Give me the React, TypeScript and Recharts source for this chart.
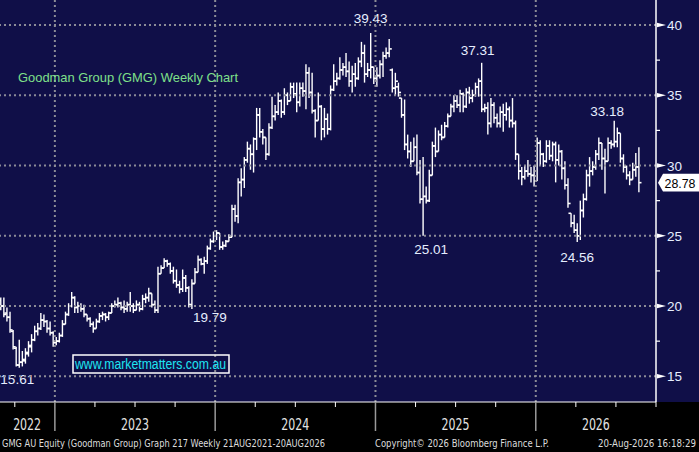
import React from 'react';
import { ComposedChart, Bar, XAxis, YAxis, ReferenceLine } from 'recharts';

const W = 699;
const H = 452;
const NAVY = '#100f48';
const GRID = '#8c8c96';
const SANS = '"Liberation Sans", Arial, sans-serif';
const NARROW = '"Liberation Sans Narrow", "DejaVu Sans Condensed", "Liberation Sans", sans-serif';

// ---- data (weekly OHLC) ----
const weeks = Array.from({ length: 208 }, (_, i) => i);

const opens = [
  20.4, 20.0, 19.5, 19.2, 18.2, 17.0, 15.8, 16.0, 16.1, 16.6,
  17.1, 17.6, 18.2, 18.4, 19.0, 18.9, 18.4, 18.1, 17.4, 17.5,
  17.9, 18.7, 19.4, 20.0, 20.6, 19.9, 20.0, 19.8, 19.4, 19.1,
  18.7, 18.4, 18.9, 19.3, 19.4, 19.2, 19.5, 20.0, 20.1, 20.2,
  19.9, 19.8, 20.1, 20.0, 19.7, 20.1, 19.8, 20.5, 20.6, 20.9,
  20.1, 19.7, 22.3, 22.7, 23.2, 23.0, 22.5, 21.8, 21.5, 21.2,
  22.0, 21.3, 20.1, 21.6, 22.4, 23.3, 23.0, 23.2, 24.1, 24.6,
  25.0, 25.2, 24.2, 24.3, 24.6, 24.9, 26.9, 26.4, 28.8, 29.0,
  30.4, 31.2, 30.8, 31.9, 33.6, 32.4, 32.0, 30.8, 32.7, 33.5,
  33.8, 34.6, 33.8, 35.0, 34.6, 35.6, 35.1, 34.5, 35.5, 35.3,
  36.6, 35.2, 33.9, 33.2, 34.2, 32.6, 33.3, 32.6, 35.4, 36.0,
  36.2, 36.8, 37.0, 36.7, 36.0, 36.5, 36.2, 37.4, 38.0, 36.5,
  36.8, 37.0, 36.2, 36.4, 37.2, 37.8, 38.0, 36.8, 35.5, 35.6,
  34.8, 33.6, 31.5, 31.0, 30.3, 31.3, 29.5, 27.6, 27.8, 27.5,
  29.3, 31.4, 31.0, 32.2, 32.0, 32.8, 33.5, 34.2, 34.6, 34.3,
  35.1, 34.2, 35.2, 34.8, 35.0, 35.6, 36.0, 34.0, 34.1, 33.0,
  34.3, 33.4, 33.0, 33.8, 33.6, 34.0, 33.2, 33.0, 30.8, 29.6,
  29.2, 29.6, 29.4, 29.3, 28.9, 31.6, 30.8, 30.3, 31.4, 30.7,
  31.5, 30.4, 31.0, 29.8, 28.6, 26.6, 25.9, 25.4, 25.0, 26.8,
  27.6, 29.3, 29.6, 29.9, 30.8, 31.6, 30.5, 30.3, 31.6, 31.5,
  31.7, 32.3, 30.5, 29.9, 29.3, 29.0, 29.7, 29.9,
];

const highs = [
  20.6, 20.6, 19.9, 19.6, 18.3, 17.1, 17.6, 16.8, 17.0, 17.5,
  18.0, 18.6, 18.8, 19.5, 19.4, 19.0, 18.9, 18.2, 17.8, 18.1,
  19.0, 19.6, 20.2, 21.0, 20.7, 20.3, 20.2, 20.1, 19.4, 19.2,
  18.9, 19.1, 19.5, 19.6, 19.5, 19.6, 20.2, 20.4, 20.6, 20.3,
  20.4, 20.3, 21.0, 20.2, 20.4, 20.3, 20.8, 20.9, 21.3, 20.9,
  20.4, 22.8, 22.9, 23.4, 23.3, 23.1, 22.8, 22.6, 21.8, 22.6,
  22.2, 21.4, 21.9, 22.7, 23.6, 23.4, 23.5, 24.3, 24.8, 25.3,
  25.4, 25.2, 24.6, 24.7, 25.1, 27.2, 27.2, 29.1, 29.8, 30.6,
  31.7, 31.5, 32.0, 34.1, 34.1, 32.6, 32.0, 33.0, 34.9, 34.3,
  35.2, 34.7, 35.5, 35.2, 35.9, 35.9, 35.9, 35.9, 35.9, 37.2,
  37.0, 36.6, 34.0, 35.2, 34.3, 34.1, 33.7, 35.7, 37.2, 36.6,
  37.7, 37.3, 38.0, 37.4, 37.1, 37.3, 37.7, 38.8, 38.6, 37.3,
  39.43, 37.0, 37.0, 37.5, 38.1, 38.4, 39.0, 36.9, 36.6, 35.9,
  34.8, 34.7, 32.2, 31.7, 32.0, 32.2, 30.4, 30.6, 28.5, 29.7,
  31.7, 32.7, 32.5, 32.9, 33.1, 33.7, 34.4, 35.0, 35.0, 35.4,
  35.2, 35.5, 35.6, 35.4, 35.9, 36.2, 37.31, 34.4, 34.5, 34.8,
  34.5, 33.7, 34.2, 34.4, 34.5, 34.2, 34.8, 33.2, 30.8, 29.9,
  30.0, 30.4, 29.9, 30.0, 32.0, 31.8, 30.9, 31.8, 31.8, 31.7,
  31.7, 31.5, 31.1, 30.3, 29.1, 26.6, 26.5, 25.9, 27.5, 28.0,
  29.7, 30.6, 30.3, 31.1, 32.0, 31.6, 31.2, 32.0, 31.8, 33.18,
  32.7, 32.3, 30.8, 30.0, 29.6, 30.2, 30.9, 31.3,
];

const lows = [
  19.7, 19.2, 18.9, 18.1, 16.9, 15.7, 15.61, 15.7, 15.9, 16.4,
  16.7, 17.5, 17.9, 18.3, 18.5, 18.1, 17.9, 17.1, 17.2, 17.4,
  17.8, 18.7, 19.3, 19.9, 19.5, 19.5, 19.6, 19.2, 18.9, 18.5,
  18.1, 18.4, 18.8, 19.0, 18.9, 19.0, 19.5, 19.9, 19.9, 19.7,
  19.5, 19.6, 19.6, 19.5, 19.7, 19.6, 19.7, 20.2, 20.3, 19.9,
  19.5, 19.5, 22.3, 22.7, 22.8, 22.3, 21.6, 21.3, 20.9, 21.0,
  21.0, 19.9, 19.79, 21.6, 22.4, 22.9, 22.3, 23.0, 24.0, 24.5,
  24.7, 24.0, 24.0, 24.2, 24.6, 24.9, 26.0, 25.9, 27.8, 28.4,
  30.2, 29.7, 29.5, 31.1, 32.0, 31.5, 30.4, 30.7, 32.6, 33.2,
  33.6, 33.4, 33.6, 34.3, 34.6, 34.8, 33.8, 34.2, 34.9, 34.0,
  34.8, 33.7, 32.0, 33.2, 31.8, 32.0, 32.2, 32.5, 35.3, 35.7,
  36.1, 36.4, 36.3, 35.6, 35.2, 35.6, 36.1, 37.0, 35.9, 36.3,
  36.2, 35.8, 35.6, 36.2, 36.3, 37.6, 37.7, 35.2, 35.0, 34.9,
  33.4, 31.1, 30.5, 29.9, 30.3, 29.3, 27.3, 25.01, 27.3, 27.4,
  29.3, 30.6, 31.0, 31.8, 32.0, 32.7, 33.5, 33.8, 34.1, 33.8,
  33.8, 34.1, 34.4, 34.5, 34.9, 34.9, 33.8, 33.8, 32.2, 32.7,
  33.0, 32.7, 32.7, 32.4, 33.2, 32.7, 32.7, 30.4, 29.0, 28.6,
  29.0, 29.2, 28.8, 28.5, 28.9, 30.0, 29.9, 30.2, 30.4, 30.3,
  28.8, 30.0, 29.0, 28.3, 27.0, 25.6, 25.2, 24.56, 24.7, 26.3,
  27.5, 28.5, 29.3, 29.7, 30.4, 29.7, 28.0, 30.3, 31.2, 31.3,
  31.3, 30.2, 29.5, 29.0, 28.6, 29.0, 29.2, 28.1,
];

const closes = [
  20.0, 19.4, 19.2, 18.3, 17.1, 15.8, 16.0, 16.2, 16.7, 17.2,
  17.6, 18.2, 18.4, 19.0, 18.9, 18.4, 18.1, 17.4, 17.5, 17.9,
  18.7, 19.4, 20.0, 20.6, 19.9, 20.0, 19.8, 19.4, 19.1, 18.7,
  18.4, 18.9, 19.3, 19.4, 19.2, 19.5, 20.0, 20.1, 20.2, 19.9,
  19.8, 20.1, 20.0, 19.7, 20.1, 19.8, 20.5, 20.6, 20.9, 20.1,
  19.7, 22.3, 22.7, 23.2, 23.0, 22.5, 21.8, 21.5, 21.2, 22.0,
  21.3, 20.1, 21.6, 22.4, 23.3, 23.0, 23.2, 24.1, 24.6, 25.0,
  25.2, 24.2, 24.3, 24.6, 24.9, 26.9, 26.4, 28.8, 29.0, 30.4,
  31.2, 30.8, 31.9, 33.6, 32.4, 32.0, 30.8, 32.7, 33.5, 33.8,
  34.6, 33.8, 35.0, 34.6, 35.6, 35.1, 34.5, 35.5, 35.3, 36.6,
  35.2, 33.9, 33.2, 34.2, 32.6, 33.3, 32.6, 35.4, 36.0, 36.2,
  36.8, 37.0, 36.7, 36.0, 36.5, 36.2, 37.4, 38.0, 36.5, 36.8,
  37.0, 36.2, 36.4, 37.2, 37.8, 38.0, 38.3, 35.5, 36.0, 35.2,
  33.6, 31.5, 31.0, 30.3, 31.3, 29.5, 27.6, 27.8, 27.5, 29.3,
  31.4, 31.0, 32.2, 32.0, 32.8, 33.5, 34.2, 34.6, 34.3, 35.1,
  34.2, 35.2, 34.8, 35.0, 35.6, 36.0, 34.0, 34.1, 33.0, 34.3,
  33.4, 33.0, 33.8, 33.6, 34.0, 33.2, 33.0, 30.8, 29.6, 29.2,
  29.6, 29.4, 29.3, 28.9, 31.6, 30.8, 30.3, 31.4, 30.7, 31.5,
  30.4, 31.0, 29.8, 28.6, 27.3, 25.9, 25.4, 25.0, 26.8, 27.6,
  29.3, 29.6, 29.9, 30.8, 31.6, 30.5, 30.3, 31.6, 31.5, 31.7,
  32.3, 30.5, 29.9, 29.3, 29.0, 29.7, 29.9, 28.78,
];

// axis / annotation values
const xDomain = [-0.3, 212.5];
const yDomain = [13.17, 41.78];
const yearBoundaries = [17.5, 69.5, 121.5, 173.5];
const quarterTicks = [4.5, 17.5, 30.5, 43.5, 56.5, 69.5, 82.5, 95.5, 108.5, 121.5, 134.5, 147.5, 160.5, 173.5, 186.5, 199.5, 212.5];
const yearLabelWeeks = [8.5, 43.5, 95.5, 147.5, 193];
const yearLabels = ['2022', '2023', '2024', '2025', '2026'];
const priceTicks = [15, 20, 25, 30, 35, 40];
const minorPriceTicks = [17.5, 22.5, 27.5, 32.5, 37.5];
const lastPrice = closes[closes.length - 1];
const noteWeeks = [120, 156, 199, 137, 187, 62, 6];
const noteSides = ['high', 'high', 'high', 'low', 'low', 'low', 'low'];

// label placement (pixels, relative to the bar's extreme)
const noteShift: [number, number][] = [[0, -15], [-4, -13], [-7, -10], [8, 13.5], [0, 15.5], [18, 8.5], [-2, 12]];

const data = weeks.map((w, i) => ({ w, o: opens[i], h: highs[i], l: lows[i], c: closes[i] }));

const OhlcShape = (props: any) => {
  const { x, y, width, height, payload } = props;
  if (x == null || y == null || !payload) return null;
  const top = Math.min(y, y + height);
  const hh = Math.abs(height);
  const cx = x + width / 2;
  const span = payload.h - payload.l;
  const py = (v: number) => (span > 0 ? top + ((payload.h - v) / span) * hh : top);
  const noteIdx = noteWeeks.indexOf(payload.w);
  let note = null;
  if (noteIdx >= 0) {
    const side = noteSides[noteIdx];
    const [dx, dy] = noteShift[noteIdx];
    const val = side === 'high' ? payload.h : payload.l;
    const baseY = side === 'high' ? top : top + hh;
    note = (
      <text
        x={cx + dx}
        y={baseY + dy + 4.7}
        textAnchor="middle"
        fill="#e6eeff"
        stroke="none"
        fontSize={13.5}
        fontFamily={SANS}
      >
        {val.toFixed(2)}
      </text>
    );
  }
  return (
    <g>
      <g stroke="#ffffff" strokeWidth={1.4}>
        <line x1={cx} x2={cx} y1={top} y2={top + Math.max(hh, 1)} />
        <line x1={cx - 2.6} x2={cx} y1={py(payload.o)} y2={py(payload.o)} strokeWidth={1.6} />
        <line x1={cx} x2={cx + 2.6} y1={py(payload.c)} y2={py(payload.c)} strokeWidth={1.6} />
      </g>
      {note}
    </g>
  );
};

const XTick = (props: any) => {
  const { x, y, payload } = props;
  const v = payload.value;
  const isBoundary = yearBoundaries.includes(v);
  const isQuarter = quarterTicks.includes(v);
  const li = yearLabelWeeks.indexOf(v);
  return (
    <g>
      {isBoundary ? (
        <line x1={x} x2={x} y1={y} y2={y + 29} stroke="#9a9a9a" strokeWidth={1.5} />
      ) : isQuarter ? (
        <line x1={x} x2={x} y1={y} y2={y + 5} stroke="#ffffff" strokeWidth={1} />
      ) : null}
      {li >= 0 ? (
        <text x={x} y={y + 28} textAnchor="middle" fill="#e4e4e4" fontSize={15} fontFamily={NARROW} textLength={28} lengthAdjust="spacingAndGlyphs">
          {yearLabels[li]}
        </text>
      ) : null}
    </g>
  );
};

const YTick = (props: any) => {
  const { x, y, payload } = props;
  const v = payload.value;
  if (v === lastPrice) {
    const ax = x + 2;
    return (
      <g>
        <polygon
          points={`${ax},${y} ${ax + 5},${y - 8.8} ${x + 43},${y - 8.8} ${x + 43},${y + 8.8} ${ax + 5},${y + 8.8}`}
          fill="#ffffff"
        />
        <text x={x + 24} y={y + 5} textAnchor="middle" fill="#000000" fontSize={13.5} fontFamily={SANS} textLength={31} lengthAdjust="spacingAndGlyphs">
          {v.toFixed(2)}
        </text>
      </g>
    );
  }
  if (priceTicks.includes(v)) {
    return (
      <g>
        <polygon points={`${x + 1},${y - 2.3} ${x + 1},${y + 2.3} ${x + 10},${y}`} fill="#ffffff" />
        <text x={x + 11} y={y + 5} textAnchor="start" fill="#e6eeff" fontSize={13.5} fontFamily={SANS}>
          {v}
        </text>
      </g>
    );
  }
  return <line x1={x} x2={x + 4} y1={y} y2={y} stroke="#ffffff" strokeWidth={1.2} />;
};

export default function App() {
  const xTicks = Array.from(new Set([...quarterTicks, ...yearLabelWeeks])).sort((a, b) => a - b);
  const yTicks = [...priceTicks, ...minorPriceTicks, lastPrice].sort((a, b) => a - b);
  return (
    <div style={{ position: 'absolute', left: 0, top: 0, width: W, height: H, background: '#000', overflow: 'hidden' }}>
      <div style={{ position: 'absolute', left: 0, top: 0, width: W, height: 402, background: NAVY }} />
      <div style={{ position: 'absolute', left: 0, top: 0 }}>
        <ComposedChart width={W} height={H} data={data} margin={{ top: 0, right: 0, bottom: 0, left: 0 }}>
          <XAxis
            dataKey="w"
            type="number"
            domain={xDomain}
            allowDataOverflow
            ticks={xTicks}
            interval={0}
            tick={<XTick />}
            tickLine={false}
            tickSize={0}
            tickMargin={0}
            height={50}
            axisLine={{ stroke: '#ffffff', strokeWidth: 1 }}
          />
          <YAxis
            orientation="right"
            type="number"
            domain={yDomain}
            allowDataOverflow
            ticks={yTicks}
            interval={0}
            tick={<YTick />}
            tickLine={false}
            tickSize={0}
            tickMargin={0}
            width={43}
            axisLine={{ stroke: '#ffffff', strokeWidth: 1.5 }}
          />
          {priceTicks.map((p) => (
            <ReferenceLine key={'h' + p} y={p} stroke={GRID} strokeWidth={2} strokeDasharray="2 3" />
          ))}
          {yearBoundaries.map((b) => (
            <ReferenceLine key={'v' + b} x={b} stroke={GRID} strokeWidth={2} strokeDasharray="2 3" />
          ))}
          <Bar dataKey={(d: any) => [d.l, d.h]} shape={<OhlcShape />} barSize={4} isAnimationActive={false} />
        </ComposedChart>
      </div>
      <svg width={W} height={H} style={{ position: 'absolute', left: 0, top: 0, pointerEvents: 'none' }}>
        <text x={18} y={81.7} fill="#7fe08a" fontSize={13} fontFamily={SANS} textLength={220} lengthAdjust="spacingAndGlyphs">
          Goodman Group (GMG) Weekly Chart
        </text>
        <rect x={73} y={355} width={156} height={18} fill="none" stroke="#ffffff" strokeWidth={1.5} />
        <text x={75} y={369} fill="#1ee6f2" fontSize={14} fontFamily={SANS} textLength={151} lengthAdjust="spacingAndGlyphs">
          www.marketmatters.com.au
        </text>
        <g fill="#dcdcdc" fontSize={10.5} fontFamily={NARROW}>
          <text x={2} y={447} textLength={323} lengthAdjust="spacingAndGlyphs">
            GMG AU Equity (Goodman Group) Graph 217 Weekly 21AUG2021-20AUG2026
          </text>
          <text x={375} y={447} textLength={174} lengthAdjust="spacingAndGlyphs">
            Copyright© 2026 Bloomberg Finance L.P.
          </text>
          <text x={696} y={447} textAnchor="end" fontSize={10} textLength={98} lengthAdjust="spacingAndGlyphs">
            20-Aug-2026 16:18:29
          </text>
        </g>
      </svg>
    </div>
  );
}
